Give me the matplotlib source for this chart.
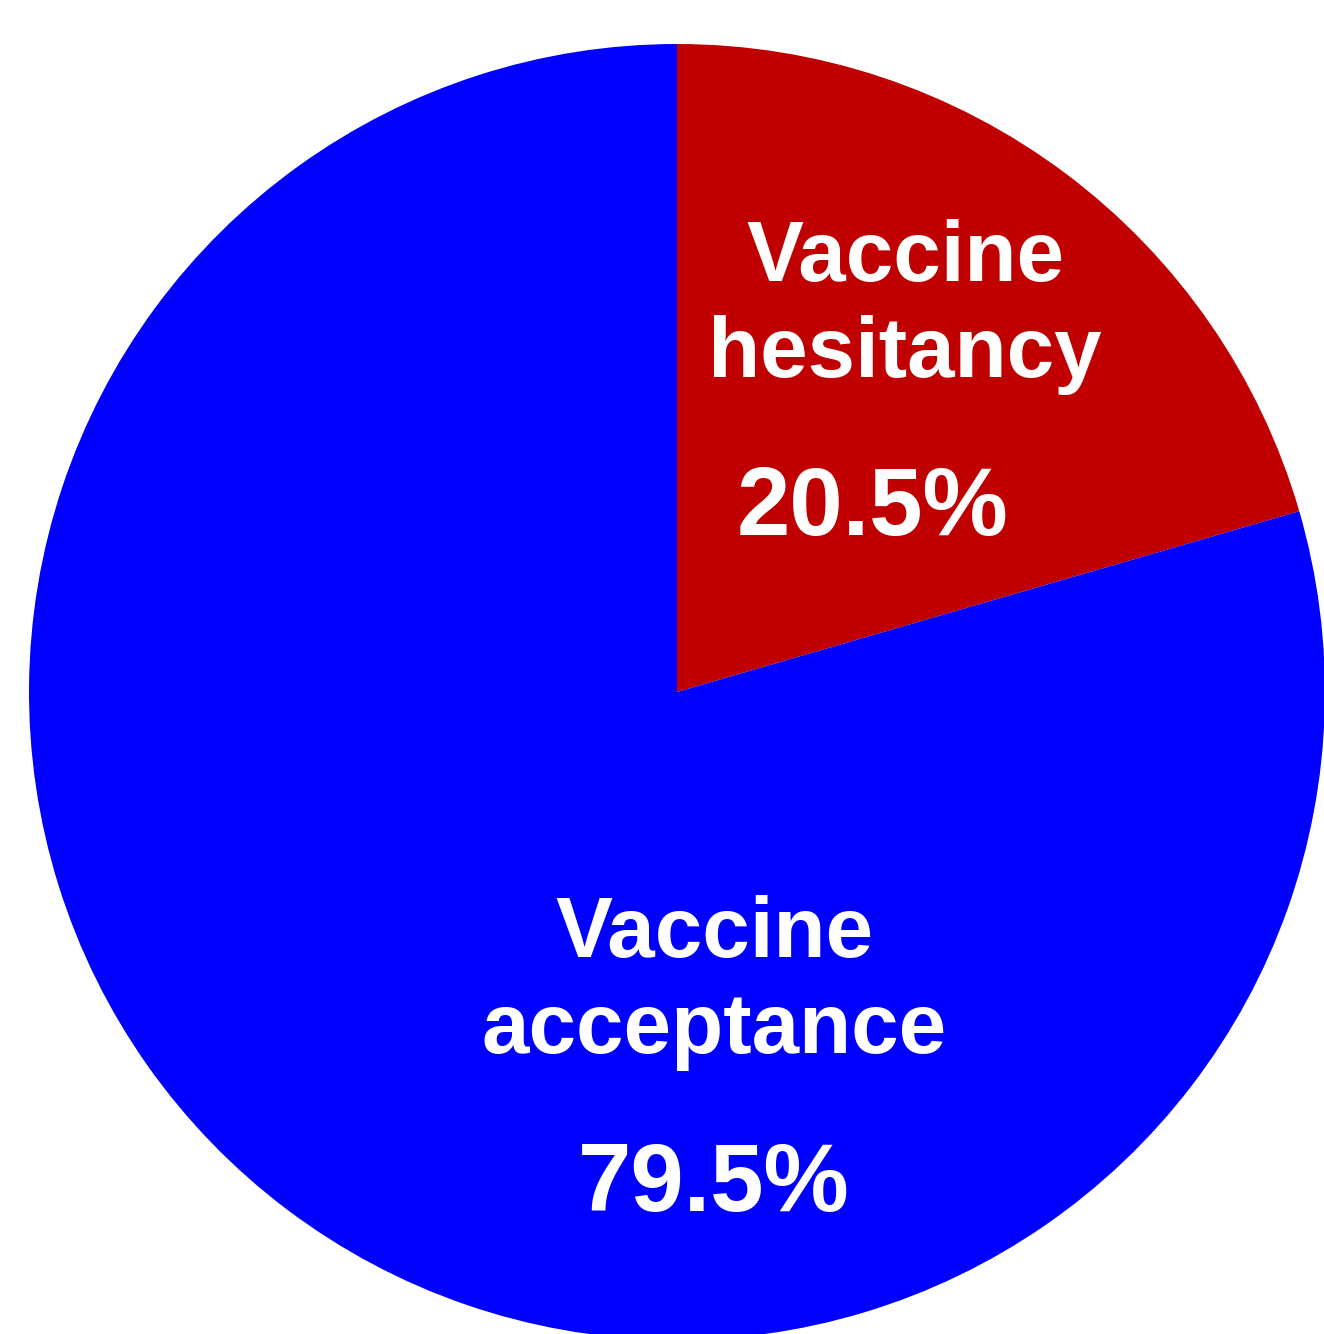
import matplotlib
matplotlib.use("Agg")
import matplotlib.pyplot as plt

labels = ["Vaccine\nhesitancy", "Vaccine\nacceptance"]
values = [20.5, 79.5]
colors = ["#C00000", "#0000FF"]

plt.rcParams['font.family'] = ['Liberation Sans', 'DejaVu Sans']

fig = plt.figure(figsize=(13.24, 13.34), dpi=100)
ax = fig.add_axes([0, 0, 1, 1])

# pie in pixel coordinates, clockwise from top
wedges, _ = ax.pie(values, colors=colors, startangle=90, counterclock=False,
                   center=(677, -692), radius=648, frame=True)
ax.set_xlim(0, 1324)
ax.set_ylim(-1334, 0)
ax.set_aspect('equal')
ax.axis('off')

ax.text(905, -307, labels[0], color='white', fontsize=61.5, fontweight='bold',
        ha='center', va='center', linespacing=1.27)
ax.text(873, -510, f"{values[0]}%", color='white', fontsize=69,
        fontweight='bold', ha='center', va='center')
ax.text(714, -983, labels[1], color='white', fontsize=61.5, fontweight='bold',
        ha='center', va='center', linespacing=1.27)
ax.text(714, -1186, f"{values[1]}%", color='white', fontsize=69,
        fontweight='bold', ha='center', va='center')

fig.savefig("out.png", dpi=100)
